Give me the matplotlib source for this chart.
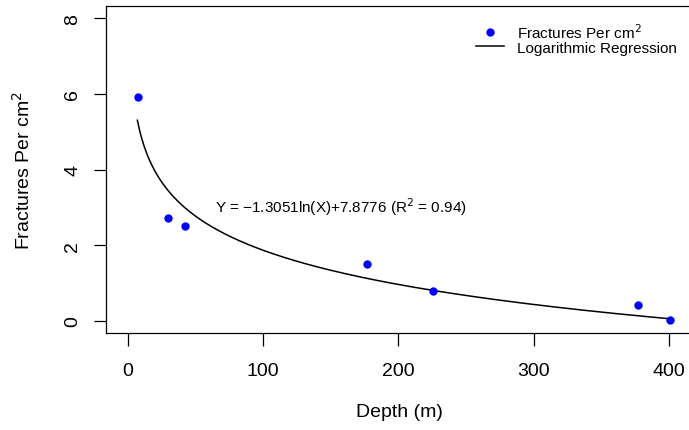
import numpy as np
import matplotlib
matplotlib.use("Agg")
import matplotlib.pyplot as plt

plt.rcParams['font.family'] = ['Liberation Sans', 'DejaVu Sans']

depth = [7.6, 29.8, 42.1, 176.5, 225.5, 376.8, 400.7]
fractures = [5.92, 2.73, 2.52, 1.50, 0.79, 0.43, 0.03]
coef_a = -1.3051
coef_b = 7.8776
xticks = [0, 100, 200, 300, 400]
yticks = [0, 2, 4, 6, 8]

W, H = 689, 431
fig = plt.figure(figsize=(W / 100, H / 100), dpi=100)
ax = fig.add_axes([106 / W, (H - 334) / H, (692 - 106) / W, (334 - 7) / H])

xs = np.linspace(7.2, 400, 400)
ax.plot(xs, coef_a * np.log(xs) + coef_b, color='black', lw=1.1,
        label='Logarithmic Regression', zorder=2)
ax.plot(depth, fractures, 'o', color='#0000FF', markersize=6, markeredgewidth=0,
        label='Fractures Per cm$^2$', zorder=3)

ax.set_xlim(-16, 417)
ax.set_ylim(-0.32, 8.32)
ax.set_xticks(xticks)
ax.set_yticks(yticks)
ax.tick_params(axis='both', length=9, width=0.9, labelsize=14, direction='out')
ax.tick_params(axis='x', pad=12)
ax.tick_params(axis='y', pad=9)
for lab in ax.get_yticklabels():
    lab.set_rotation(90)
    lab.set_va('center')
for s in ax.spines.values():
    s.set_linewidth(0.9)

ax.set_xlabel('Depth (m)', fontsize=14, labelpad=17)
ax.set_ylabel('Fractures Per cm$^2$', fontsize=14, labelpad=22)

ax.text(157.5, 3.03, 'Y = \u22121.3051ln(X)+7.8776 (R$^2$ = 0.94)',
        fontsize=11, ha='center', va='center')

handles, labels = ax.get_legend_handles_labels()
ax.legend(handles[::-1], labels[::-1], loc='upper left',
          bbox_to_anchor=(476 / W, (H - 23) / H), bbox_transform=fig.transFigure,
          frameon=False, fontsize=11, borderpad=0, labelspacing=0.0,
          handlelength=1.8, handletextpad=0.9, borderaxespad=0, numpoints=1)

fig.savefig('out.png', dpi=100)
